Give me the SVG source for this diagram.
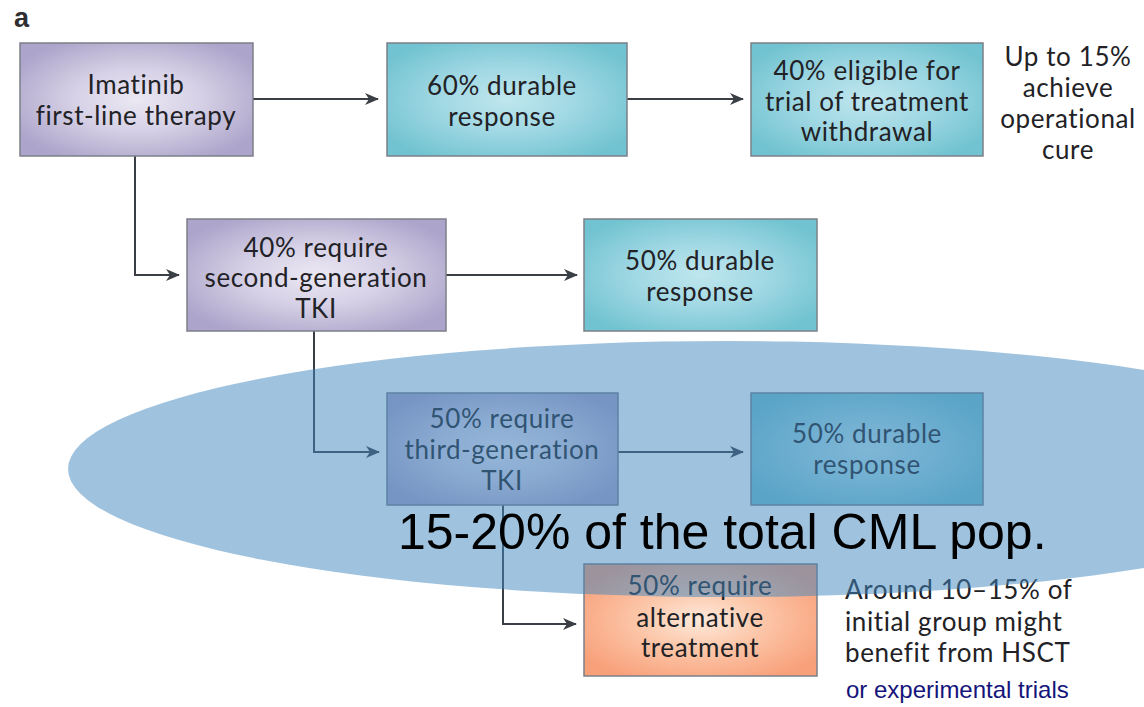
<svg xmlns="http://www.w3.org/2000/svg" width="1144" height="707" viewBox="0 0 1144 707">
  <defs>
    <radialGradient id="gPurple" cx="0.5" cy="0.5" r="0.6">
      <stop offset="0" stop-color="#ebe8f3"/>
      <stop offset="0.45" stop-color="#d6d1e6"/>
      <stop offset="1" stop-color="#aca4ca"/>
    </radialGradient>
    <radialGradient id="gTeal" cx="0.5" cy="0.5" r="0.6">
      <stop offset="0" stop-color="#bfe6ee"/>
      <stop offset="0.45" stop-color="#a2d9e4"/>
      <stop offset="1" stop-color="#72c3d1"/>
    </radialGradient>
    <radialGradient id="gOrange" cx="0.5" cy="0.5" r="0.6">
      <stop offset="0" stop-color="#feeadc"/>
      <stop offset="0.45" stop-color="#fcc6a8"/>
      <stop offset="1" stop-color="#f8a07a"/>
    </radialGradient>
    <marker id="arrow" viewBox="0 0 14 12" refX="13" refY="6" markerWidth="14" markerHeight="12" markerUnits="userSpaceOnUse" orient="auto">
      <path d="M0,0 L14,6 L0,12 L4,6 Z" fill="#3a3f46"/>
    </marker>
    <style>
      .box { stroke: #7b8088; stroke-width: 1.5; }
      .lbl { font-family: Lato, "Open Sans", sans-serif; font-size: 26px; letter-spacing: 0.6px; fill: #222226; text-anchor: middle; }
      .note { font-family: Lato, "Open Sans", sans-serif; font-size: 26px; letter-spacing: 0.6px; fill: #222226; }
      .conn { fill: none; stroke: #3a3f46; stroke-width: 2; marker-end: url(#arrow); }
    </style>
  </defs>

  <rect width="1144" height="707" fill="#ffffff"/>

  <!-- panel letter -->
  <text x="14" y="27" font-family="Liberation Sans, Arial, sans-serif" font-weight="bold" font-size="27" fill="#2e2e30">a</text>

  <!-- connectors -->
  <g id="connectors">
    <path class="conn" d="M253,99 H378"/>
    <path class="conn" d="M627,99 H743"/>
    <path class="conn" d="M135,156 V275 H179"/>
    <path class="conn" d="M446,275 H577"/>
    <path class="conn" d="M314,331 V452 H379"/>
    <path class="conn" d="M618,452 H743"/>
    <path class="conn" d="M503,505 V624 H576"/>
  </g>

  <!-- first line -->
  <g id="imatinib">
    <rect class="box" x="20" y="43" width="233" height="113" fill="url(#gPurple)"/>
    <text class="lbl" x="136" y="94">Imatinib</text>
    <text class="lbl" x="136" y="125">first-line therapy</text>
  </g>
  <g id="durable60">
    <rect class="box" x="387" y="43" width="240" height="113" fill="url(#gTeal)"/>
    <text class="lbl" x="502" y="95">60% durable</text>
    <text class="lbl" x="502" y="126">response</text>
  </g>
  <g id="withdrawal">
    <rect class="box" x="751" y="43" width="232" height="113" fill="url(#gTeal)"/>
    <text class="lbl" x="867" y="80">40% eligible for</text>
    <text class="lbl" x="867" y="111">trial of treatment</text>
    <text class="lbl" x="867" y="141">withdrawal</text>
  </g>
  <g id="cure-note">
    <text class="lbl" x="1068" y="66">Up to 15%</text>
    <text class="lbl" x="1068" y="97">achieve</text>
    <text class="lbl" x="1068" y="128">operational</text>
    <text class="lbl" x="1068" y="159">cure</text>
  </g>

  <!-- second generation -->
  <g id="second-gen">
    <rect class="box" x="187" y="219" width="259" height="112" fill="url(#gPurple)"/>
    <text class="lbl" x="316" y="257">40% require</text>
    <text class="lbl" x="316" y="287">second-generation</text>
    <text class="lbl" x="316" y="318">TKI</text>
  </g>
  <g id="durable50a">
    <rect class="box" x="584" y="219" width="233" height="112" fill="url(#gTeal)"/>
    <text class="lbl" x="700" y="270">50% durable</text>
    <text class="lbl" x="700" y="301">response</text>
  </g>

  <!-- third generation -->
  <g id="third-gen">
    <rect class="box" x="387" y="393" width="231" height="112" fill="url(#gPurple)"/>
    <text class="lbl" x="502" y="428">50% require</text>
    <text class="lbl" x="502" y="459">third-generation</text>
    <text class="lbl" x="502" y="490">TKI</text>
  </g>
  <g id="durable50b">
    <rect class="box" x="751" y="393" width="232" height="112" fill="url(#gTeal)"/>
    <text class="lbl" x="867" y="443">50% durable</text>
    <text class="lbl" x="867" y="474">response</text>
  </g>

  <!-- alternative treatment -->
  <g id="alternative">
    <rect class="box" x="584" y="564" width="233" height="112" fill="url(#gOrange)"/>
    <text class="lbl" x="700" y="595">50% require</text>
    <text class="lbl" x="700" y="627">alternative</text>
    <text class="lbl" x="700" y="657">treatment</text>
  </g>
  <g id="hsct-note">
    <text class="note" x="845" y="599">Around 10–15% of</text>
    <text class="note" x="845" y="631">initial group might</text>
    <text class="note" x="845" y="662">benefit from HSCT</text>
    <text x="846" y="698" font-family="Liberation Sans, Arial, sans-serif" font-size="24" fill="#14147a">or experimental trials</text>
  </g>

  <!-- translucent highlight over the later-line population -->
  <g id="highlight">
    <ellipse cx="727" cy="469" rx="659" ry="128" fill="#3f86bd" fill-opacity="0.5"/>
    <text x="398" y="549" font-family="Liberation Sans, Arial, sans-serif" font-size="50" fill="#000000">15-20% of the total CML pop.</text>
  </g>
</svg>
